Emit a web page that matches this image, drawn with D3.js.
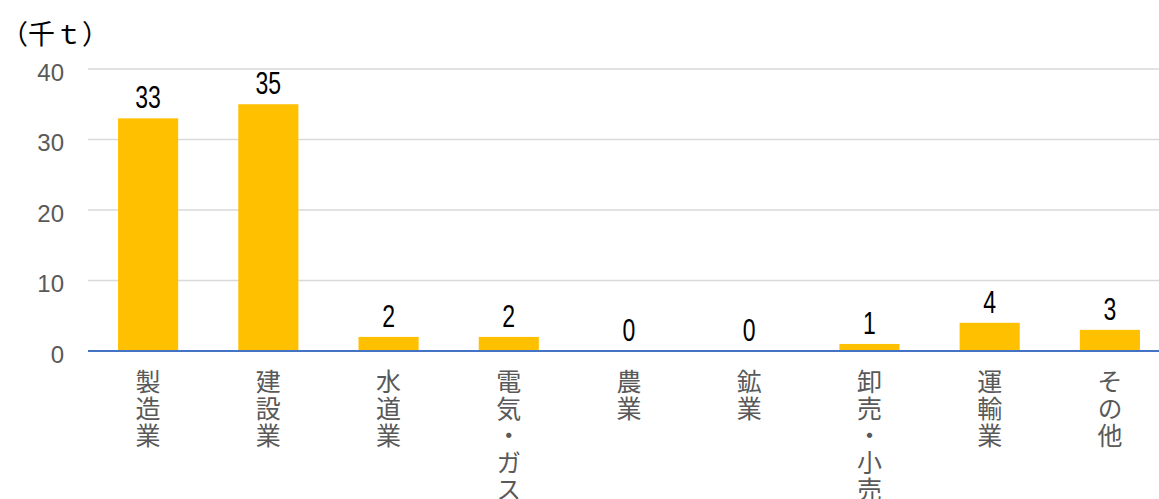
<!DOCTYPE html>
<meta charset="utf-8">
<head>
<title>industry bar chart</title>
<script src="https://cdn.jsdelivr.net/npm/d3@7"></script>
<style>
  body { margin: 0; background: #fff; }
</style>
</head>
<body>
<div id="chart"></div>
<script>

const width = 1159;
const height = 499;

const categories = ["製造業", "建設業", "水道業", "電気・ガス", "農業", "鉱業", "卸売・小売", "運輸業", "その他"];
const values = [33, 35, 2, 2, 0, 0, 1, 4, 3];
const yTicks = [0, 10, 20, 30, 40];
const unitLabel = "（千ｔ）";

const svg = d3.select("#chart")
  .append("svg")
  .attr("width", width)
  .attr("height", height)
  .attr("viewBox", [0, 0, width, height]);

const x = d3.scaleBand()
  .domain(categories)
  .range([88, 1170])
  .paddingInner(0.5)
  .paddingOuter(0.25);

const y = d3.scaleLinear()
  .domain([0, 40])
  .range([351, 69]);

// gridlines
svg.append("g")
  .selectAll("line")
  .data(yTicks.filter(d => d > 0))
  .join("line")
    .attr("x1", 88)
    .attr("x2", width)
    .attr("y1", d => y(d))
    .attr("y2", d => y(d))
    .attr("stroke", "#d9d9d9")
    .attr("stroke-width", 1.5);

// y tick labels
svg.append("g")
  .style("font", "24px 'Liberation Sans', sans-serif")
  .attr("fill", "#595959")
  .selectAll("text")
  .data(yTicks)
  .join("text")
    .attr("x", 64)
    .attr("y", d => y(d) + 11.5)
    .attr("text-anchor", "end")
    .text(d => d);

// bars
svg.append("g")
  .selectAll("rect")
  .data(values)
  .join("rect")
    .attr("x", (d, i) => x(categories[i]))
    .attr("y", d => y(d))
    .attr("width", x.bandwidth())
    .attr("height", d => y(0) - y(d))
    .attr("fill", "#ffc000");

// axis line
svg.append("line")
  .attr("x1", 88)
  .attr("x2", width)
  .attr("y1", y(0))
  .attr("y2", y(0))
  .attr("stroke", "#4472c4")
  .attr("stroke-width", 2);

// data labels (narrow, tall digits)
svg.append("g")
  .style("font", "32px 'Liberation Sans', sans-serif")
  .attr("fill", "#000")
  .selectAll("text")
  .data(values)
  .join("text")
    .attr("transform", (d, i) => `translate(${x(categories[i]) + x.bandwidth() / 2},${y(d) - 10}) scale(0.72,1)`)
    .attr("text-anchor", "middle")
    .text(d => d);

// vertical category labels
svg.append("g")
  .style("font", "25px 'Noto Sans CJK JP', sans-serif")
  .style("writing-mode", "vertical-rl")
  .style("letter-spacing", "2px")
  .attr("fill", "#595959")
  .selectAll("text")
  .data(categories)
  .join("text")
    .attr("x", d => x(d) + x.bandwidth() / 2)
    .attr("y", 369)
    .text(d => d);

// unit label
svg.append("text")
  .attr("x", 1)
  .attr("y", 44)
  .style("font", "27px 'Noto Sans CJK JP', sans-serif")
  .attr("fill", "#000")
  .text(unitLabel);

</script>
</body>
